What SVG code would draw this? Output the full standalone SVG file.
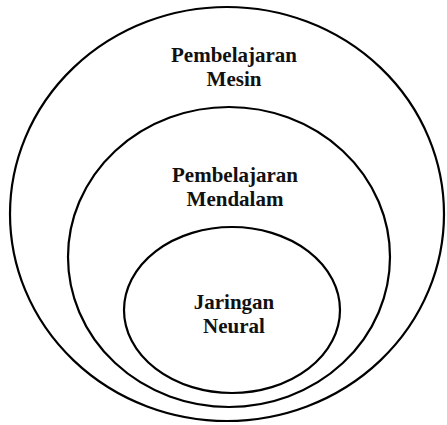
<svg xmlns="http://www.w3.org/2000/svg" width="447" height="425" viewBox="0 0 447 425">
<style>
.e{fill:none;stroke:#000;stroke-width:2.2}
.t{font-weight:bold;font-size:21px;text-anchor:middle;fill:#111}
</style>
<rect width="447" height="425" fill="#fff"/>
<g id="mesin">
<ellipse class="e" cx="227" cy="214" rx="217" ry="207"/>
<text class="t" font-family="Liberation Serif, DejaVu Serif, serif" x="234" y="62">Pembelajaran</text>
<text class="t" font-family="Liberation Serif, DejaVu Serif, serif" x="234" y="86">Mesin</text>
</g>
<g id="mendalam">
<ellipse class="e" cx="229" cy="257" rx="161" ry="150"/>
<text class="t" font-family="Liberation Serif, DejaVu Serif, serif" x="235" y="182">Pembelajaran</text>
<text class="t" font-family="Liberation Serif, DejaVu Serif, serif" x="235" y="206">Mendalam</text>
</g>
<g id="neural">
<ellipse class="e" cx="232" cy="310" rx="108" ry="83"/>
<text class="t" font-family="Liberation Serif, DejaVu Serif, serif" x="234" y="309">Jaringan</text>
<text class="t" font-family="Liberation Serif, DejaVu Serif, serif" x="234" y="333">Neural</text>
</g>
<g id="connectors"/>
</svg>
